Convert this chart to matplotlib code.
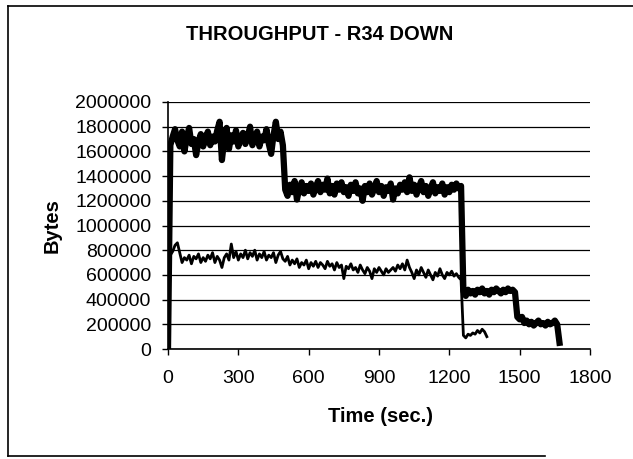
import numpy as np
import matplotlib
matplotlib.use("Agg")
import matplotlib.pyplot as plt
from matplotlib.lines import Line2D

plt.rcParams["font.family"] = ["Liberation Sans", "DejaVu Sans"]

# sample spacing of the readings (seconds)
STEP = 10

# upper (thick) series, thousands of bytes, every 10 s from t=0
link_a_k = [
    0,
    1650, 1720, 1780, 1690, 1640, 1760, 1600, 1710, 1790, 1660,
    1700, 1570, 1680, 1740, 1640, 1710, 1760, 1650, 1720, 1680,
    1770, 1840, 1530, 1700, 1790, 1620, 1730, 1680, 1770, 1640,
    1710, 1750, 1660, 1720, 1800, 1650, 1700, 1760, 1640, 1720,
    1690, 1780, 1660, 1580, 1730, 1840, 1700, 1760, 1650,
    1290, 1240, 1330, 1270, 1360, 1210, 1300, 1350, 1260, 1320,
    1280, 1340, 1250, 1310, 1360, 1270, 1330, 1290, 1380, 1260,
    1320, 1250, 1340, 1290, 1350, 1270, 1310, 1240, 1330, 1280,
    1350, 1260, 1300, 1200, 1320, 1270, 1340, 1250, 1300, 1360,
    1270, 1320, 1240, 1310, 1280, 1340, 1210, 1300, 1260, 1330,
    1290, 1350, 1270, 1390, 1280, 1330, 1250, 1310, 1360, 1270,
    1320, 1240, 1300, 1350, 1260, 1310, 1280, 1340, 1250, 1310,
    1270, 1330, 1290, 1340, 1300, 1320,
    470, 430, 480, 450, 470, 440, 480, 460, 490, 450,
    470, 440, 480, 460, 490, 470, 450, 480, 460, 490,
    470, 480, 460,
    260, 240, 260, 210, 230, 200, 220, 190, 210, 230,
    200, 210, 190, 220, 200, 210, 230, 200, 50,
]

# lower (thin) series, thousands of bytes, every 10 s from t=0
link_b_k = [
    0, 760, 790, 840, 860, 780, 700, 740, 720, 760,
    690, 750, 730, 770, 700, 740, 710, 760, 730, 780,
    700, 750, 720, 660, 740, 770, 720, 850, 740, 790,
    720, 770, 740, 800, 730, 780, 750, 800, 720, 770,
    740, 790, 720, 760, 740, 780, 700, 760, 790, 730,
    710, 750, 680, 720, 690, 730, 660, 700, 680, 720,
    650, 700, 670, 710, 660, 700, 680, 650, 710, 670,
    690, 640, 700, 660, 680, 570, 670, 650, 690, 640,
    660, 620, 680, 640, 610, 660, 630, 570, 650, 620,
    660, 630, 600, 650, 620, 640, 660, 630, 680, 650,
    690, 640, 720, 660, 620, 570, 640, 600, 660, 620,
    580, 640, 600, 560, 620, 590, 650, 600, 570, 620,
    600, 630, 590, 610, 580, 560,
    110, 90, 120, 110, 130, 120, 150, 130, 160, 140, 100,
]

x_ticks = [0, 300, 600, 900, 1200, 1500, 1800]
y_ticks = [0, 200000, 400000, 600000, 800000, 1000000,
           1200000, 1400000, 1600000, 1800000, 2000000]

a = np.array(link_a_k) * 1000
b = np.array(link_b_k) * 1000
t_a = np.arange(len(a)) * STEP
t_b = np.arange(len(b)) * STEP

fig = plt.figure(figsize=(6.33, 4.59), dpi=100)
ax = fig.add_axes([168 / 633, 1 - 349 / 459, 422 / 633, 247 / 459])

ax.plot(t_b, b, color="black", lw=2.0)
ax.plot(t_a, a, color="black", lw=4.5)

ax.set_xlim(0, 1800)
ax.set_ylim(0, 2000000)
ax.set_xticks(x_ticks)
ax.set_yticks(y_ticks)
ax.set_yticklabels([str(v) for v in y_ticks])
ax.grid(axis="y", color="black", lw=0.9)
ax.set_axisbelow(True)

for s in ("top", "right"):
    ax.spines[s].set_visible(False)
for s in ("left", "bottom"):
    ax.spines[s].set_linewidth(1.2)

ax.tick_params(axis="both", direction="out", length=4, width=1,
               labelsize=14, colors="black")
ax.tick_params(axis="x", pad=11)
ax.tick_params(axis="y", pad=8)

ax.set_title("THROUGHPUT - R34 DOWN", fontsize=14.5, fontweight="bold",
             x=(320 - 168) / 422, y=(349 - 35) / 247, va="center", pad=0)
ax.set_xlabel("Time (sec.)", fontsize=14.5, fontweight="bold")
ax.xaxis.set_label_coords((380 - 168) / 422, (349 - 417) / 247)
ax.xaxis.label.set_va("center")
ax.set_ylabel("Bytes", fontsize=14.5, fontweight="bold")
ax.yaxis.set_label_coords((52 - 168) / 422, 0.5)
ax.yaxis.label.set_va("center")

# chart frame (scanned, right side cut off)
def px(x, y):
    return x / 633, 1 - y / 459

for (x0, y0), (x1, y1) in [((8, 6), (633, 6)), ((8, 6), (8, 456)),
                           ((8, 456), (545, 456))]:
    (fx0, fy0), (fx1, fy1) = px(x0, y0), px(x1, y1)
    fig.add_artist(Line2D([fx0, fx1], [fy0, fy1], color="black", lw=1.2,
                          transform=fig.transFigure))

fig.savefig("out.png", dpi=100)
